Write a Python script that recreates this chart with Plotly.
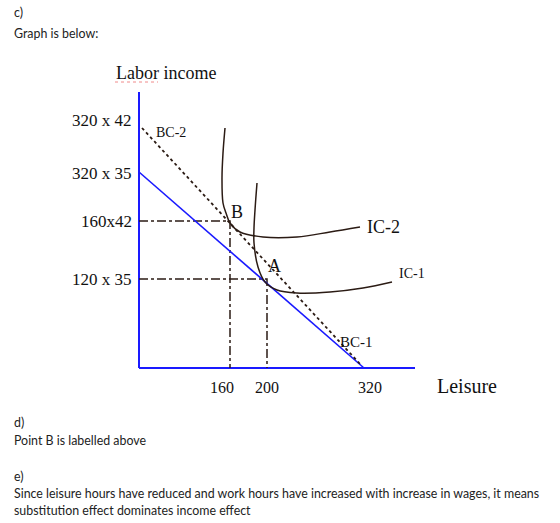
import plotly.graph_objects as go

# ---- schematic data (coordinates in chart units; origin at axes corner) ----
# budget constraints
bc1_x = [0, 225]
bc1_y = [196, 0]
bc2_x = [3, 222]
bc2_y = [240, 3]

# indifference curves
ic2_x = [86, 84, 83, 84, 87, 91, 101, 124, 158, 191, 221]
ic2_y = [240, 215, 190, 165, 155, 145, 136, 131, 131, 136, 141]
ic1_x = [118, 116, 115, 115, 119, 126, 138, 158, 191, 224, 253]
ic1_y = [185, 158, 140, 125, 101, 86, 78, 75, 76, 80, 86]

# optimum points
point_names = ["B", "A"]
point_x = [91, 128]
point_y = [147, 89]

# axis tick labels
y_tick_vals = [248, 195, 147, 89]
y_tick_text = ["320 x 42", "320 x 35", "160x42", "120 x 35"]
x_tick_vals = [83, 128, 231]
x_tick_text = ["160", "200", "320"]

axis_len = 276

BLUE = "#1a1aff"
DARK = "#2b1b14"
SERIF = "Liberation Serif"
SANS = "Lato"

fig = go.Figure()

# axes
fig.add_trace(go.Scatter(x=[0, 0], y=[0, axis_len], mode="lines",
                         line=dict(color=BLUE, width=2), hoverinfo="skip"))
fig.add_trace(go.Scatter(x=[0, axis_len], y=[0, 0], mode="lines",
                         line=dict(color=BLUE, width=2), hoverinfo="skip"))

# projection lines
for px, py in zip(point_x, point_y):
    fig.add_trace(go.Scatter(x=[0, px, px], y=[py, py, 0], mode="lines",
                             line=dict(color=DARK, width=1.5, dash="dashdot"),
                             hoverinfo="skip"))

# budget constraints
fig.add_trace(go.Scatter(x=bc1_x, y=bc1_y, mode="lines",
                         line=dict(color=BLUE, width=1.6), hoverinfo="skip"))
fig.add_trace(go.Scatter(x=bc2_x, y=bc2_y, mode="lines",
                         line=dict(color=DARK, width=1.8, dash="3px,3px"), hoverinfo="skip"))

# indifference curves
fig.add_trace(go.Scatter(x=ic2_x, y=ic2_y, mode="lines",
                         line=dict(color=DARK, width=1.5, shape="spline", smoothing=1.0),
                         hoverinfo="skip"))
fig.add_trace(go.Scatter(x=ic1_x, y=ic1_y, mode="lines",
                         line=dict(color=DARK, width=1.5, shape="spline", smoothing=1.0),
                         hoverinfo="skip"))

# red spell-check underline under "Labor"
fig.add_trace(go.Scatter(x=[-24, 19], y=[286, 286], mode="lines",
                         line=dict(color="#f08a8a", width=1, dash="dot"), hoverinfo="skip"))

ann = []
def txt(x, y, t, size, family=SERIF, xanchor="center", color="#111111"):
    ann.append(dict(x=x, y=y, xref="x", yref="y", text=t, showarrow=False,
                    xanchor=xanchor, yanchor="middle", borderpad=0,
                    font=dict(family=family, size=size, color=color)))

# y tick labels
for v, t in zip(y_tick_vals, y_tick_text):
    txt(-6, v, t, 17, xanchor="right")
# x tick labels
for v, t in zip(x_tick_vals, x_tick_text):
    txt(v, -19, t, 16)

txt(27, 295, "Labor income", 18)
txt(328, -18, "Leisure", 20)
txt(16, 236, "BC-2", 14, xanchor="left")
txt(217, 26, "BC-1", 15)
txt(244, 141, "IC-2", 18)
txt(273, 95, "IC-1", 14)
txt(98, 156, "B", 18)
txt(135, 102, "A", 18)

# document text
doc = [("c)", 12), ("Graph is below:", 33), ("d)", 422), ("Point B is labelled above", 440),
       ("e)", 476),
       ("Since leisure hours have reduced and work hours have increased with increase in wages, it means", 493),
       ("substitution effect dominates income effect", 510)]
for t, py in doc:
    txt(-126, 368 - py, t, 12.4, family=SANS, xanchor="left", color="#222222")

fig.update_layout(
    width=560, height=523, margin=dict(l=0, r=0, t=0, b=0),
    paper_bgcolor="white", plot_bgcolor="white", showlegend=False,
    annotations=ann,
    xaxis=dict(range=[-139, 421], visible=False, fixedrange=True),
    yaxis=dict(range=[-155, 368], visible=False, fixedrange=True),
)

fig.write_html("out.html")
